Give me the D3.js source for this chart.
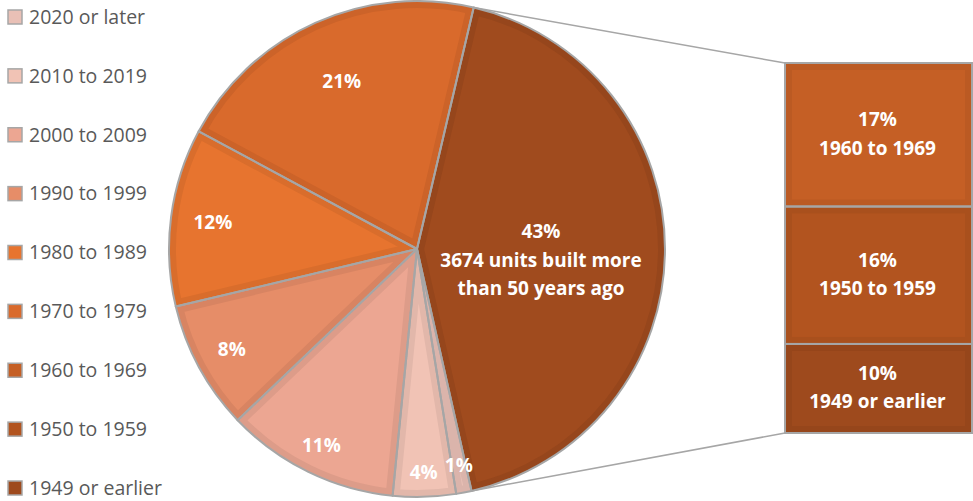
<!DOCTYPE html>
<html>
<head>
<meta charset="utf-8">
<script src="https://cdn.jsdelivr.net/npm/d3@7"></script>
<style>
    body { margin: 0; background: #ffffff; }
    svg { display: block; }
    text { font-family: "Open Sans", "Noto Sans", sans-serif; }
</style>
</head>
<body>
<div id="chart"></div>
<script>
// legend order (newest first)
let categories = ['2020 or later', '2010 to 2019', '2000 to 2009', '1990 to 1999', '1980 to 1989',
    '1970 to 1979', '1960 to 1969', '1950 to 1959', '1949 or earlier'];
// share of units, percent
let shares = [1.0, 4.1, 11.3, 8.4, 11.6, 20.8, 16.6, 15.9, 10.3];
let colors = ['#e9c0b6', '#f1c3b5', '#eca692', '#e68d68', '#e7742f', '#d96a2c', '#c55f25', '#b2541f', '#9e4a1d'];

// the last three go into the bar
let pieCats = categories.slice(0, 6);
let barCats = categories.slice(6);
let otherUnits = 3674;

let width = 973, height = 501;
let cx = 417, cy = 249, R = 248;

let svg = d3.select('#chart').append('svg')
    .attr('width', width)
    .attr('height', height);

// ---------- pie data ----------
let barTotal = d3.sum(barCats, c => shares[categories.indexOf(c)]);
let pieData = [{key: 'Other', value: barTotal, color: '#a04b1e'}]
    .concat(pieCats.map(c => ({key: c, value: shares[categories.indexOf(c)], color: colors[categories.indexOf(c)]})));

let pieGen = d3.pie()
    .sort(null)
    .value(d => d.value)
    .startAngle(0.2306)
    .endAngle(0.2306 + Math.PI * 2);

let arcs = pieGen(pieData);
let arc = d3.arc().innerRadius(0).outerRadius(R);

let defs = svg.append('defs');
let pieG = svg.append('g').attr('transform', `translate(${cx},${cy})`);

arcs.forEach((a, i) => {
    defs.append('clipPath').attr('id', 'clip' + i)
        .append('path').attr('d', arc(a));
});

// fill
pieG.selectAll('.slice')
    .data(arcs)
    .enter().append('path')
    .attr('class', 'slice')
    .attr('d', arc)
    .attr('fill', d => d.data.color);

// inner band (the darker rim inside each slice)
pieG.selectAll('.rim')
    .data(arcs)
    .enter().append('path')
    .attr('class', 'rim')
    .attr('d', arc)
    .attr('clip-path', (d, i) => `url(#clip${i})`)
    .attr('fill', 'none')
    .attr('stroke', d => d3.color(d.data.color).darker(0.18))
    .attr('stroke-width', 14);

// outline
pieG.selectAll('.edge')
    .data(arcs)
    .enter().append('path')
    .attr('class', 'edge')
    .attr('d', arc)
    .attr('fill', 'none')
    .attr('stroke', '#a6a6a6')
    .attr('stroke-width', 2)
    .attr('stroke-linejoin', 'round');

// pie labels, radius as fraction of R per slice (other, 2020.., 2010.., 2000.., 1990.., 1980.., 1970..)
let labelR = [0.5, 0.89, 0.9, 0.88, 0.85, 0.83, 0.74];
let lbl = pieG.selectAll('.plabel')
    .data(arcs)
    .enter().append('text')
    .attr('class', 'plabel')
    .attr('text-anchor', 'middle')
    .attr('fill', '#ffffff')
    .attr('font-weight', 700)
    .attr('font-size', 19)
    .attr('transform', (d, i) => {
        let c = d3.arc().innerRadius(R * labelR[i]).outerRadius(R * labelR[i]).centroid(d);
        return `translate(${c[0]},${c[1]})`;
    });

lbl.each(function (d, i) {
    let t = d3.select(this);
    let pct = Math.round(d.data.value) + '%';
    if (d.data.key === 'Other') {
        t.append('tspan').attr('x', 0).attr('dy', '-0.6em').text(pct);
        t.append('tspan').attr('x', 0).attr('dy', '1.5em').text(otherUnits + ' units built more');
        t.append('tspan').attr('x', 0).attr('dy', '1.5em').text('than 50 years ago');
    } else {
        t.attr('dy', '0.35em').text(pct);
    }
});

// ---------- bar ----------
let barX = 785, barW = 187, barTop = 63, barBottom = 433;

let barData = barCats.map(c => ({key: c, value: shares[categories.indexOf(c)], color: colors[categories.indexOf(c)]}));
let barY = d3.scaleLinear().domain([0, barTotal]).range([barTop, barBottom]);
let cum = 0;
barData.forEach(d => { d.y0 = cum; cum += d.value; d.y1 = cum; });

let barG = svg.append('g');

barG.selectAll('.seg')
    .data(barData)
    .enter().append('rect')
    .attr('class', 'seg')
    .attr('x', barX)
    .attr('y', d => barY(d.y0))
    .attr('width', barW)
    .attr('height', d => barY(d.y1) - barY(d.y0))
    .attr('fill', d => d3.color(d.color).darker(0.15));

barG.selectAll('.segIn')
    .data(barData)
    .enter().append('rect')
    .attr('class', 'segIn')
    .attr('x', barX + 7)
    .attr('y', d => barY(d.y0) + 7)
    .attr('width', barW - 14)
    .attr('height', d => barY(d.y1) - barY(d.y0) - 14)
    .attr('fill', d => d.color);

barG.selectAll('.segEdge')
    .data(barData)
    .enter().append('rect')
    .attr('class', 'segEdge')
    .attr('x', barX)
    .attr('y', d => barY(d.y0))
    .attr('width', barW)
    .attr('height', d => barY(d.y1) - barY(d.y0))
    .attr('fill', 'none')
    .attr('stroke', '#a6a6a6')
    .attr('stroke-width', 2);

barG.selectAll('.blabel')
    .data(barData)
    .enter().append('text')
    .attr('class', 'blabel')
    .attr('text-anchor', 'middle')
    .attr('fill', '#ffffff')
    .attr('font-weight', 700)
    .attr('font-size', 19)
    .attr('transform', d => `translate(${barX + barW / 2 - 1},${(barY(d.y0) + barY(d.y1)) / 2})`)
    .each(function (d) {
        let t = d3.select(this);
        t.append('tspan').attr('x', 0).attr('dy', '-0.45em').text(Math.round(d.value) + '%');
        t.append('tspan').attr('x', 0).attr('dy', '1.5em').text(d.key);
    });

// connector lines from the "other" slice to the bar
let oth = arcs[0];
let pTop = [cx + R * Math.sin(oth.startAngle), cy - R * Math.cos(oth.startAngle)];
let pBot = [cx + R * Math.sin(oth.endAngle), cy - R * Math.cos(oth.endAngle)];
svg.append('line')
    .attr('x1', pTop[0]).attr('y1', pTop[1])
    .attr('x2', barX).attr('y2', barTop)
    .attr('stroke', '#a6a6a6').attr('stroke-width', 1.5);
svg.append('line')
    .attr('x1', pBot[0]).attr('y1', pBot[1])
    .attr('x2', barX).attr('y2', barBottom)
    .attr('stroke', '#a6a6a6').attr('stroke-width', 1.5);

// ---------- legend ----------
let legend = svg.append('g').attr('class', 'legend');
let legY = d3.scalePoint().domain(categories).range([17, 488]);

let item = legend.selectAll('.item')
    .data(categories)
    .enter().append('g')
    .attr('class', 'item')
    .attr('transform', d => `translate(8,${legY(d)})`);

item.append('rect')
    .attr('x', 0)
    .attr('y', -7)
    .attr('width', 14)
    .attr('height', 14)
    .attr('fill', (d, i) => colors[i])
    .attr('stroke', '#a6a6a6')
    .attr('stroke-width', 1.5);

item.append('text')
    .attr('x', 21)
    .attr('dy', '0.35em')
    .attr('fill', '#595959')
    .attr('font-size', 19.5)
    .text(d => d);
</script>
</body>
</html>
